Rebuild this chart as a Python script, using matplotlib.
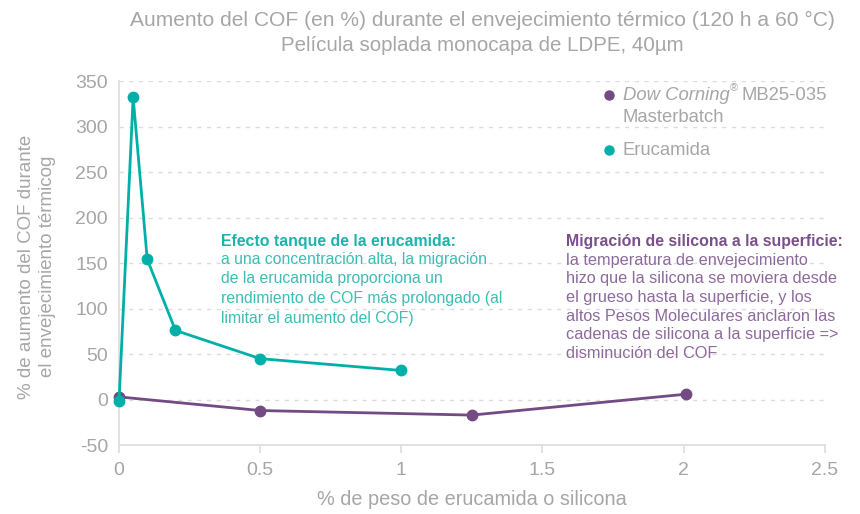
import matplotlib
matplotlib.use("Agg")
import matplotlib.pyplot as plt
from matplotlib.lines import Line2D

plt.rcParams['font.family'] = ['Liberation Sans', 'DejaVu Sans']
plt.rcParams['axes.unicode_minus'] = False

# data
silicona_x = [0, 0.5, 1.25, 2.01]
silicona_y = [3, -12, -17, 6]
erucamida_x = [0, 0.05, 0.1, 0.2, 0.5, 1.0]
erucamida_y = [-2, 332, 154, 76, 45, 32]
x_ticks = [0, 0.5, 1, 1.5, 2, 2.5]
x_tick_labels = ["0", "0.5", "1", "1.5", "2", "2.5"]
y_ticks = [-50, 0, 50, 100, 150, 200, 250, 300, 350]

purple = "#744a85"
teal = "#00b0a8"
gray = "#a6a6a6"
grid = "#dcdcdc"

fig = plt.figure(figsize=(8.6, 5.14), dpi=100)
ax = fig.add_axes([0.1384, 0.134, 0.8206, 0.7084])

ax.plot(silicona_x, silicona_y, color=purple, lw=2, marker="o", ms=7.5,
        clip_on=False, zorder=3)
ax.plot(erucamida_x, erucamida_y, color=teal, lw=2, marker="o", ms=7.5,
        clip_on=False, zorder=4)

ax.set_xlim(0, 2.5)
ax.set_ylim(-50, 350)
ax.set_xticks(x_ticks)
ax.set_xticklabels(x_tick_labels)
ax.set_yticks(y_ticks)
for v in y_ticks[1:]:
    ax.axhline(v, color=grid, lw=1, ls=(0, (3, 4)), zorder=1)

for s in ["top", "right"]:
    ax.spines[s].set_visible(False)
for s in ["left", "bottom"]:
    ax.spines[s].set_color(grid)
    ax.spines[s].set_linewidth(1.2)
ax.tick_params(axis="x", colors=gray, labelsize=14, length=6, width=1.2,
               color=grid, pad=6)
ax.tick_params(axis="y", colors=gray, labelsize=14, length=0, pad=8)

ax.set_xlabel("% de peso de erucamida o silicona", color=gray, fontsize=14.3,
              labelpad=8)
ax.set_ylabel("% de aumento del COF durante\nel envejecimiento térmicog",
              color=gray, fontsize=13.5, linespacing=1.3)
ax.yaxis.set_label_coords(-0.089, 0.49)

fig.text(0.5605, 0.961, "Aumento del COF (en %) durante el envejecimiento térmico (120 h a 60 °C)",
         ha="center", va="center", color=gray, fontsize=15.1)
fig.text(0.5605, 0.912, "Película soplada monocapa de LDPE, 40µm",
         ha="center", va="center", color=gray, fontsize=14.8)

# legend, built by hand to match the two-line entry
fig.add_artist(Line2D([0.708], [0.815], transform=fig.transFigure, marker="o",
                      ms=6.5, color=purple, ls="none"))
fig.add_artist(Line2D([0.708], [0.708], transform=fig.transFigure, marker="o",
                      ms=6.5, color=teal, ls="none"))
t1 = fig.text(0.724, 0.815, "Dow Corning", color=gray, fontsize=13.3,
              fontstyle="italic", ha="left", va="center")
renderer = fig.canvas.get_renderer()
bb = t1.get_window_extent(renderer).transformed(fig.transFigure.inverted())
t2 = fig.text(bb.x1 + 0.001, 0.828, "®", color=gray, fontsize=8, ha="left", va="center")
bb2 = t2.get_window_extent(renderer).transformed(fig.transFigure.inverted())
fig.text(bb2.x1 + 0.004, 0.815, "MB25-035", color=gray, fontsize=13.3, ha="left", va="center")
fig.text(0.724, 0.772, "Masterbatch", color=gray, fontsize=13.3, ha="left", va="center")
fig.text(0.724, 0.708, "Erucamida", color=gray, fontsize=13.3, ha="left", va="center")

# annotations
fig.text(0.257, 0.531, "Efecto tanque de la erucamida:", color="#1db3aa",
         fontsize=11.4, fontweight="bold", ha="left", va="center")
fig.text(0.257, 0.51,
         "a una concentración alta, la migración\nde la erucamida proporciona un\n"
         "rendimiento de COF más prolongado (al\nlimitar el aumento del COF)",
         color="#3dbdb5", fontsize=11.3, ha="left", va="top", linespacing=1.38)
fig.text(0.658, 0.531, "Migración de silicona a la superficie:", color="#7a4f8c",
         fontsize=11.4, fontweight="bold", ha="left", va="center")
fig.text(0.658, 0.508,
         "la temperatura de envejecimiento\nhizo que la silicona se moviera desde\n"
         "el grueso hasta la superficie, y los\naltos Pesos Moleculares anclaron las\n"
         "cadenas de silicona a la superficie =>\ndisminución del COF",
         color="#8d6a9c", fontsize=11.7, ha="left", va="top", linespacing=1.3)

fig.savefig("out.png", dpi=100)
